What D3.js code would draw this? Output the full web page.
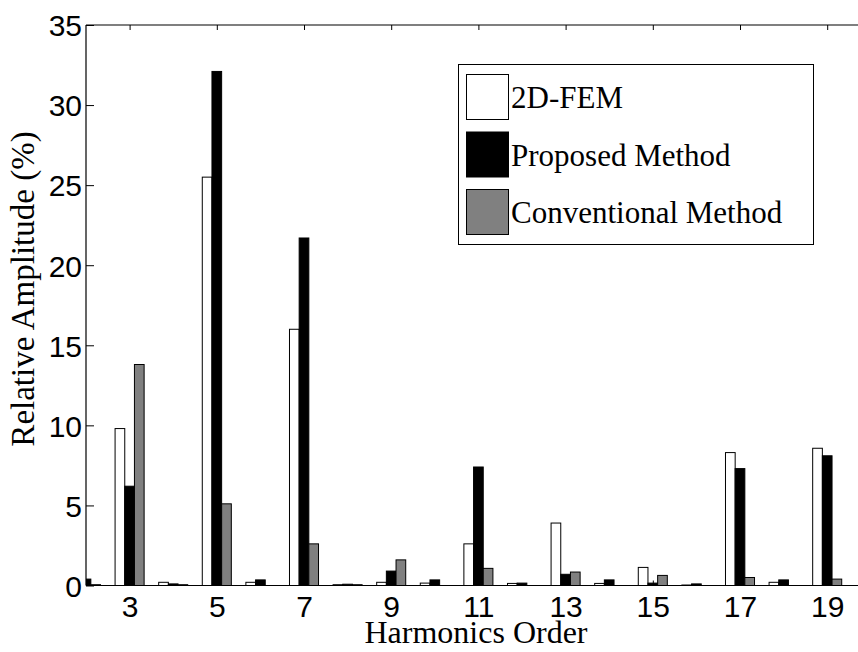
<!DOCTYPE html>
<html>
<head>
<meta charset="utf-8">
<script src="https://cdn.jsdelivr.net/npm/d3@7"></script>
<style>
  body { margin: 0; background: #fff; }
  svg { display: block; }
</style>
</head>
<body>
<svg id="chart" width="858" height="652"></svg>
<script>
// harmonic orders and relative amplitudes (%)
var harmonics = [2, 3, 4, 5, 6, 7, 8, 9, 10, 11, 12, 13, 14, 15, 16, 17, 18, 19];
var fem = [0, 9.8, 0.2, 25.5, 0.2, 16.0, 0.05, 0.2, 0.15, 2.6, 0.13, 3.9, 0.13, 1.13, 0.03, 8.3, 0.2, 8.57];
var proposed = [0.4, 6.2, 0.1, 32.1, 0.35, 21.7, 0.08, 0.9, 0.35, 7.4, 0.15, 0.7, 0.35, 0.15, 0.1, 7.3, 0.35, 8.1];
var conventional = [0.05, 13.8, 0.05, 5.1, 0, 2.6, 0.05, 1.6, 0, 1.07, 0, 0.84, 0, 0.63, 0, 0.5, 0, 0.4];
var seriesNames = ["2D-FEM", "Proposed Method", "Conventional Method"];
var xTicks = [3, 5, 7, 9, 11, 13, 15, 17, 19];
var yTicks = [0, 5, 10, 15, 20, 25, 30, 35];

function drawChart() {
  var series = [fem, proposed, conventional];
  var fills = ["#ffffff", "#000000", "#808080"];

  var svg = d3.select("#chart");
  var mLeft = 86, mTop = 25, mBottom = 585.5, mRight = 880;

  var x = d3.scaleLinear().domain([2, 2 + (mRight - mLeft) / 43.6]).range([mLeft, mRight]);
  var y = d3.scaleLinear().domain([0, 35]).range([mBottom, mTop]);

  var barW = 0.222; // in harmonic units, three bars side by side

  svg.append("clipPath").attr("id", "plot")
    .append("rect").attr("x", mLeft).attr("y", mTop)
    .attr("width", mRight - mLeft).attr("height", mBottom - mTop);

  var bars = svg.append("g").attr("clip-path", "url(#plot)");
  series.forEach(function(vals, si) {
    bars.selectAll(null)
      .data(harmonics)
      .enter()
      .append("rect")
      .attr("x", function(h) { return x(h + (si - 1.5) * barW); })
      .attr("width", x(2 + barW) - x(2))
      .attr("y", function(h, i) { return y(vals[i]); })
      .attr("height", function(h, i) { return y(0) - y(vals[i]); })
      .style("fill", fills[si])
      .style("stroke", "#000")
      .style("stroke-width", 1);
  });

  // axes, ticks pointing inward like matlab
  var fontTick = "30px 'Liberation Sans', Arial, sans-serif";

  var yAxis = svg.append("g")
    .attr("transform", "translate(" + mLeft + ",0)")
    .call(d3.axisLeft(y).tickValues(yTicks).tickSize(-8).tickPadding(4).tickFormat(d3.format("d")));

  var xAxis = svg.append("g")
    .attr("transform", "translate(0," + mBottom + ")")
    .call(d3.axisBottom(x).tickValues(xTicks).tickSize(-5).tickPadding(10).tickFormat(d3.format("d")));

  var topAxis = svg.append("g")
    .attr("transform", "translate(0," + mTop + ")")
    .call(d3.axisTop(x).tickValues(xTicks).tickSize(-5).tickFormat(""));

  [yAxis, xAxis, topAxis].forEach(function(a) {
    a.select(".domain").attr("d", null);
    a.selectAll(".tick line").style("stroke", "#000");
    a.selectAll("text").style("font", fontTick).style("fill", "#000");
  });
  xAxis.selectAll("text").attr("dy", "0.71em");
  yAxis.selectAll("text").attr("dy", "0.36em");

  // frame lines (right side is cut off)
  svg.append("path")
    .attr("d", "M" + mLeft + "," + mTop + "H858M" + mLeft + "," + mTop + "V" + mBottom + "M" + mLeft + "," + mBottom + "H858")
    .style("fill", "none").style("stroke", "#000").style("stroke-width", 1.2);

  var serif = "'Liberation Serif', 'Times New Roman', serif";

  svg.append("text")
    .attr("x", 476).attr("y", 643)
    .attr("text-anchor", "middle")
    .style("font-family", serif).style("font-size", "32px")
    .text("Harmonics Order");

  svg.append("text")
    .attr("transform", "translate(34,289) rotate(-90)")
    .attr("text-anchor", "middle")
    .style("font-family", serif).style("font-size", "33px")
    .text("Relative Amplitude (%)");

  // legend
  var lg = svg.append("g");
  lg.append("rect")
    .attr("x", 458.5).attr("y", 64.5).attr("width", 355).attr("height", 180)
    .style("fill", "#fff").style("stroke", "#000").style("stroke-width", 1);

  var rows = lg.selectAll("g.row")
    .data(seriesNames)
    .enter().append("g")
    .attr("class", "row")
    .attr("transform", function(d, i) { return "translate(0," + (i * 57.5) + ")"; });

  rows.append("rect")
    .attr("x", 466.5).attr("y", 74.5).attr("width", 42).attr("height", 45)
    .style("fill", function(d, i) { return fills[i]; })
    .style("stroke", "#000");

  rows.append("text")
    .attr("x", 511).attr("y", 108)
    .style("font-family", serif).style("font-size", "31px")
    .text(function(d) { return d; });
}

drawChart();
</script>
</body>
</html>
